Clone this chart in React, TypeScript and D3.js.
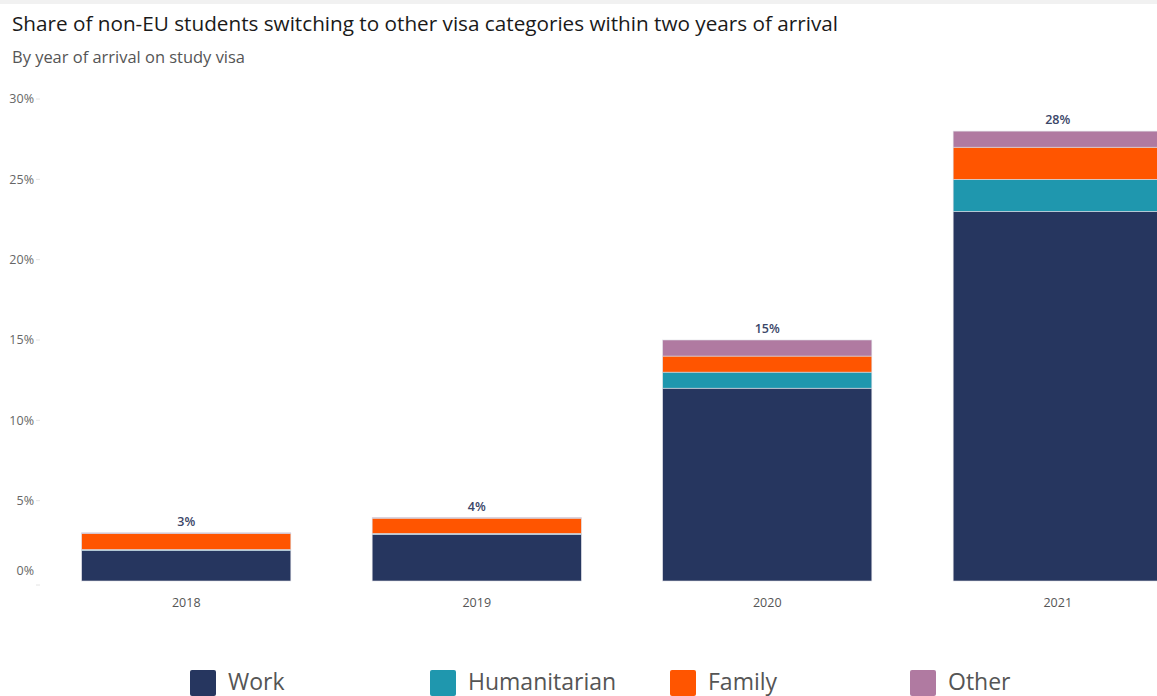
import React from "react";
import * as d3 from "d3";

const years = ["2018", "2019", "2020", "2021"];
const categories = ["Work", "Humanitarian", "Family", "Other"];
const work = [1.9, 2.9, 12, 23];
const humanitarian = [0.06, 0.06, 1, 2];
const family = [1.0, 0.95, 1, 2];
const other = [0.04, 0.04, 1, 1];
const totalLabels = ["3%", "4%", "15%", "28%"];
const yTicks = [0, 5, 10, 15, 20, 25, 30];
const colors = ["#26365f", "#1f97ae", "#ff5500", "#b07aa1"];

const W = 1157;
const H = 696;

export default function App() {
  const rows = years.map((y, i) => ({
    year: y,
    Work: work[i],
    Humanitarian: humanitarian[i],
    Family: family[i],
    Other: other[i],
  }));
  const stack = d3.stack<any>().keys(categories)(rows);
  const y = d3.scaleLinear().domain([0, 30]).range([581, 99]);
  const x = d3
    .scaleBand()
    .domain(years)
    .range([41, 41 + 4 * 290.5])
    .paddingInner(0.28)
    .paddingOuter(0.14);
  const font = "'Open Sans', 'DejaVu Sans', sans-serif";

  return (
    <svg
      width={W}
      height={H}
      style={{ position: "absolute", left: 0, top: 0, background: "#fff" }}
      fontFamily={font}
    >
      <rect x={0} y={0} width={W} height={4} fill="#f1f1f1" />
      <text
        x={12}
        y={31}
        fontSize={20}
        fill="#1a1a1a"
        textLength={826}
        lengthAdjust="spacingAndGlyphs"
      >
        Share of non-EU students switching to other visa categories within two years of arrival
      </text>
      <text
        x={12}
        y={63}
        fontSize={16}
        fill="#555"
        textLength={233}
        lengthAdjust="spacingAndGlyphs"
      >
        By year of arrival on study visa
      </text>

      {yTicks.map((t) => (
        <g key={t}>
          <text
            x={34}
            y={t === 0 ? y(t) - 10 : y(t)}
            dy="0.35em"
            fontSize={12.5}
            fill="#666"
            textAnchor="end"
          >
            {t}%
          </text>
          <line
            x1={36}
            x2={40}
            y1={t === 0 ? y(t) + 4 : y(t)}
            y2={t === 0 ? y(t) + 4 : y(t)}
            stroke="#e4e4e4"
          />
        </g>
      ))}

      {stack.map((s, si) => (
        <g key={s.key}>
          {s.map((d: any, i: number) => (
            <rect
              key={i}
              x={x(years[i])!}
              y={y(d[1])}
              width={x.bandwidth()}
              height={Math.max(0, y(d[0]) - y(d[1]))}
              fill={colors[si]}
              stroke="#dcdce4"
              strokeWidth={0.6}
            />
          ))}
        </g>
      ))}

      {years.map((yr, i) => {
        const total = work[i] + humanitarian[i] + family[i] + other[i];
        return (
          <g key={yr}>
            <text
              x={x(yr)! + x.bandwidth() / 2}
              y={y(total) - 7}
              fontSize={12.5}
              fontWeight={600}
              fill="#3b4668"
              textAnchor="middle"
            >
              {totalLabels[i]}
            </text>
            <text
              x={x(yr)! + x.bandwidth() / 2}
              y={607}
              fontSize={12.5}
              fill="#555"
              textAnchor="middle"
            >
              {yr}
            </text>
          </g>
        );
      })}

      {categories.map((c, i) => (
        <g key={c} transform={`translate(${190 + i * 240},670)`}>
          <rect x={0} y={0} width={26} height={26} rx={2} fill={colors[i]} />
          <text x={38} y={20} fontSize={23} fill="#555">
            {c}
          </text>
        </g>
      ))}
    </svg>
  );
}
